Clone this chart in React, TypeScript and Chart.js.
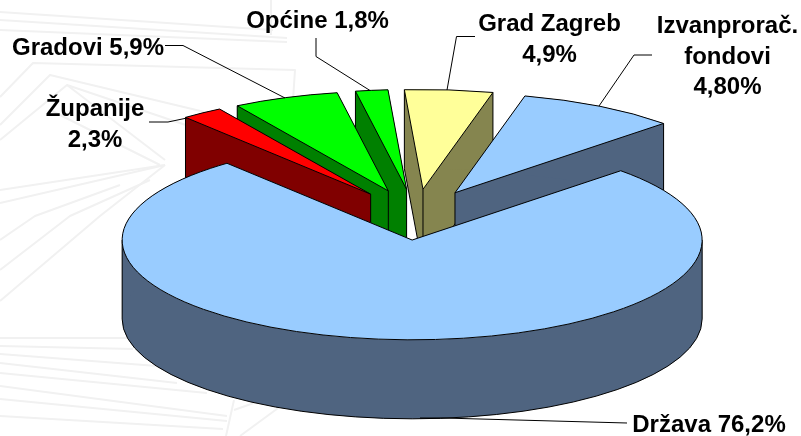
import React, { useEffect, useRef } from "react";
import { Chart, registerables } from "chart.js";

Chart.register(...registerables);

// Slice shares as drawn in the picture (the label of the last one reads 4,80%).
const categories = ["Država", "Županije", "Gradovi", "Općine", "Grad Zagreb", "Izvanproračunski fondovi"];
const shares = [76.2, 2.3, 5.9, 1.8, 4.9, 8.9];
const topColors = ["#99CCFF", "#FF0000", "#00FF00", "#00FF00", "#FFFF99", "#99CCFF"];
const wallColors = ["#4F6480", "#800000", "#008000", "#008000", "#85854F", "#4F6480"];
const explosions = [70, 78, 78, 78, 78, 78];

const labelLines = [
  { lines: ["Država 76,2%"], x: 709, y: 432 },
  { lines: ["Županije", "2,3%"], x: 95, y: 116 },
  { lines: ["Gradovi 5,9%"], x: 88, y: 55 },
  { lines: ["Općine 1,8%"], x: 317.5, y: 28 },
  { lines: ["Grad Zagreb", "4,9%"], x: 549.5, y: 31 },
  { lines: ["Izvanprorač.", "fondovi", "4,80%"], x: 727.5, y: 33 },
];
const leaderPaths = [
  [[627, 423], [443, 418], [420, 418]],
  [[149, 122], [168, 122], [187, 118]],
  [[165, 45.5], [183, 45.5], [285, 98]],
  [[316, 38], [316, 56.5], [370, 90.5]],
  [[475, 36.5], [456.5, 36.5], [447, 90]],
  [[652, 55], [634, 55], [599, 106]],
];

// Faint decorative backdrop of the slide
const backdropStrokes = [
  [[0, 12], [273, 30]],
  [[0, 20], [287, 38]],
  [[0, 30], [287, 42]],
  [[271, 0], [271, 35]],
  [[0, 97], [33, 63], [295, 70], [293, 100]],
  [[0, 125], [50, 75], [280, 130]],
  [[0, 140], [67, 85], [260, 150]],
  [[67, 85], [165, 160]],
  [[50, 110], [160, 165]],
  [[165, 165], [0, 190]],
  [[165, 165], [0, 203]],
  [[165, 165], [100, 216], [0, 301]],
  [[150, 180], [70, 216], [0, 270]],
  [[120, 185], [35, 216], [0, 240]],
  [[0, 338], [130, 338]],
  [[0, 346], [133, 349]],
  [[0, 354], [157, 366]],
  [[0, 363], [177, 383]],
  [[0, 373], [207, 393]],
  [[0, 386], [227, 416]],
  [[0, 399], [227, 421]],
  [[0, 416], [223, 429]],
  [[234, 400], [226, 436]],
  [[234, 410], [268, 398]],
  [[240, 436], [300, 392]],
];

const SQUASH = 0.344;
const DEPTH = 79;
const LINE_STEP = 30.5;

const pie3d = {
  id: "pie3d",
  beforeDraw(chart: any) {
    const ctx: CanvasRenderingContext2D = chart.ctx;
    ctx.save();
    ctx.strokeStyle = "#F1F1F1";
    ctx.lineWidth = 2;
    ctx.lineJoin = "round";
    for (const pts of backdropStrokes) {
      ctx.beginPath();
      pts.forEach(([x, y], k) => (k ? ctx.lineTo(x, y) : ctx.moveTo(x, y)));
      ctx.stroke();
    }
    ctx.restore();
  },
  beforeDatasetsDraw(chart: any) {
    const ctx: CanvasRenderingContext2D = chart.ctx;
    const arcs: any[] = chart.getDatasetMeta(0).data;
    const order = arcs
      .map((a, i) => ({ a, i, mid: (a.startAngle + a.endAngle) / 2 }))
      .sort((p, q) => Math.sin(p.mid) - Math.sin(q.mid));

    for (const { a, i, mid } of order) {
      const cx = a.x + Math.cos(mid) * explosions[i];
      const cy = a.y + Math.sin(mid) * explosions[i] * SQUASH;
      const r = a.outerRadius;
      const ry = r * SQUASH;
      const s = a.startAngle;
      const e = a.endAngle;
      const px = (t: number) => cx + Math.cos(t) * r;
      const py = (t: number) => cy + Math.sin(t) * ry;
      const sector = (dy: number) => {
        ctx.beginPath();
        ctx.moveTo(cx, cy + dy);
        ctx.ellipse(cx, cy + dy, r, ry, 0, s, e);
        ctx.closePath();
      };
      // true when the face lies only above this radius, so its bottom edge shows
      const edgeShows = (t: number) => {
        const qx = Math.cos(t) * r * 0.5;
        const qy = (Math.sin(t) * ry * 0.5 + 2) / SQUASH;
        let ang = Math.atan2(qy, qx);
        while (ang < s) ang += Math.PI * 2;
        return ang > e;
      };

      ctx.save();
      ctx.lineJoin = "round";
      ctx.strokeStyle = "#000000";
      ctx.lineWidth = 1;
      ctx.fillStyle = wallColors[i];

      // radial walls
      for (const t of [s, e]) {
        ctx.beginPath();
        ctx.moveTo(cx, cy);
        ctx.lineTo(px(t), py(t));
        ctx.lineTo(px(t), py(t) + DEPTH);
        ctx.lineTo(cx, cy + DEPTH);
        ctx.closePath();
        ctx.fill();
      }
      // outer wall, split where it turns at the left and right extremes
      const cuts = [s, ...[0, Math.PI].filter((c) => c > s && c < e), e];
      for (let k = 0; k + 1 < cuts.length; k++) {
        ctx.beginPath();
        ctx.ellipse(cx, cy, r, ry, 0, cuts[k], cuts[k + 1]);
        ctx.ellipse(cx, cy + DEPTH, r, ry, 0, cuts[k + 1], cuts[k], true);
        ctx.closePath();
        ctx.fill();
      }

      // bottom edges: the front of the arc and the radii that form the outline
      const front0 = Math.max(s, 0);
      const front1 = Math.min(e, Math.PI);
      if (front0 < front1) {
        ctx.beginPath();
        ctx.ellipse(cx, cy + DEPTH, r, ry, 0, front0, front1);
        ctx.stroke();
      }
      for (const t of [s, e]) {
        if (edgeShows(t)) {
          ctx.beginPath();
          ctx.moveTo(px(t), py(t) + DEPTH);
          ctx.lineTo(cx, cy + DEPTH);
          ctx.stroke();
        }
      }

      // vertical edges: the inner crease and the outline's extremes
      const extremes: [number, number][] = [
        [cx, cy],
        [px(s), py(s)],
        [px(e), py(e)],
      ];
      if (s < 0 && e > 0) extremes.push([px(0), py(0)]);
      if (s < Math.PI && e > Math.PI) extremes.push([px(Math.PI), py(Math.PI)]);
      const xs = extremes.map((p) => p[0]);
      const minX = Math.min(...xs);
      const maxX = Math.max(...xs);
      extremes.forEach(([vx, vy], k) => {
        if (k === 0 || vx === minX || vx === maxX) {
          ctx.beginPath();
          ctx.moveTo(vx, vy);
          ctx.lineTo(vx, vy + DEPTH);
          ctx.stroke();
        }
      });

      // top face
      ctx.fillStyle = topColors[i];
      sector(0);
      ctx.fill();
      ctx.stroke();
      ctx.restore();
    }

    // leader lines
    ctx.save();
    ctx.strokeStyle = "#000000";
    ctx.lineWidth = 1;
    for (const pts of leaderPaths) {
      ctx.beginPath();
      pts.forEach(([x, y], k) => (k ? ctx.lineTo(x, y) : ctx.moveTo(x, y)));
      ctx.stroke();
    }
    // labels
    ctx.fillStyle = "#000000";
    ctx.font = 'bold 24px "Liberation Sans", Arial, sans-serif';
    ctx.textAlign = "center";
    ctx.textBaseline = "alphabetic";
    for (const l of labelLines) {
      l.lines.forEach((t, k) => ctx.fillText(t, l.x, l.y + k * LINE_STEP));
    }
    ctx.restore();
    return false;
  },
};

export default function App() {
  const ref = useRef<HTMLCanvasElement>(null);
  useEffect(() => {
    const chart = new Chart(ref.current!, {
      type: "pie",
      data: {
        labels: categories,
        datasets: [{ data: shares, backgroundColor: topColors, borderColor: "#000000", borderWidth: 1 }],
      },
      options: {
        responsive: false,
        animation: false,
        rotation: 46,
        radius: 290,
        layout: { padding: { left: 31, bottom: 4 } },
        plugins: { legend: { display: false }, tooltip: { enabled: false } },
      },
      plugins: [pie3d],
    } as any);
    return () => chart.destroy();
  }, []);
  return (
    <div style={{ position: "absolute", left: 0, top: 0, width: 801, height: 436, overflow: "hidden", background: "#fff" }}>
      <canvas ref={ref} width={801} height={436} style={{ display: "block" }} />
    </div>
  );
}
